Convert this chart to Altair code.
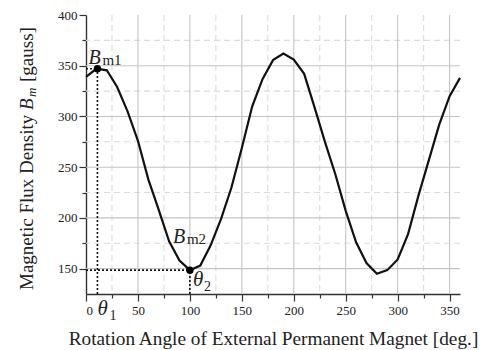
import altair as alt
import pandas as pd

# ---- data ----
angles = [0, 10, 20, 30, 40, 50, 60, 70, 80, 90, 100, 110, 120, 130, 140, 150,
          160, 170, 180, 190, 200, 210, 220, 230, 240, 250, 260, 270, 280, 290,
          300, 310, 320, 330, 340, 350, 360]
flux = [339, 347, 345.5, 329, 305, 276, 238, 208, 177, 158, 148.5, 153, 173,
        199, 230, 269, 310, 337, 355.5, 362, 356, 342, 309, 275, 243, 207, 176,
        155.5, 145, 148.5, 159, 184, 222, 257, 292, 320, 338]

theta1, bm1 = 11, 347
theta2, bm2 = 100, 148.5

x_major = [0, 50, 100, 150, 200, 250, 300, 350]
x_minor = [25, 75, 125, 175, 225, 275, 325]
y_major = [150, 200, 250, 300, 350, 400]
y_minor = [175, 225, 275, 325, 375]
x_min, x_max = 0, 360
y_min, y_max = 125, 400

x_title = "Rotation Angle of External Permanent Magnet [deg.]"
y_title_parts = ["Magnetic Flux Density", "B", "m", "[gauss]"]

FONT = "Liberation Serif"
W, H = 374, 279
TXT = "#222222"

df = pd.DataFrame({"angle": angles, "flux": flux})
pts = pd.DataFrame({"angle": [theta1, theta2], "flux": [bm1, bm2]})
guides = pd.DataFrame({
    "x":  [theta1, x_min, theta2, x_min],
    "y":  [y_min, bm1, y_min, bm2],
    "x2": [theta1, theta1, theta2, theta2],
    "y2": [bm1, bm1, bm2, bm2],
})
vgrid_major = pd.DataFrame({"v": [v for v in x_major if v > x_min]})
vgrid_minor = pd.DataFrame({"v": x_minor})
hgrid_major = pd.DataFrame({"v": [v for v in y_major if v < y_max]})
hgrid_minor = pd.DataFrame({"v": y_minor})

xscale = alt.Scale(domain=[x_min, x_max], nice=False, zero=False)
yscale = alt.Scale(domain=[y_min, y_max], nice=False, zero=False)

tick_size = {"condition": {"test": "datum.value % 50 === 0", "value": 7}, "value": 4}

x_axis = alt.Axis(
    values=sorted(x_major + x_minor),
    labelExpr="datum.value % 50 === 0 ? datum.label : ''",
    title=x_title, titlePadding=12, labelPadding=3, grid=False, tickSize=tick_size,
    labelFont=FONT, titleFont=FONT,
)
y_axis = alt.Axis(
    values=sorted(y_major + y_minor),
    labelExpr="datum.value % 50 === 0 ? datum.label : ''",
    title=None, labelPadding=2, grid=False, tickSize=tick_size,
    labelFont=FONT,
)

X = alt.X("angle:Q", scale=xscale, axis=x_axis)
Y = alt.Y("flux:Q", scale=yscale, axis=y_axis)

# grid lines
vmaj = alt.Chart(vgrid_major).mark_rule(color="#c4c4c4", strokeWidth=1.1).encode(
    x=alt.X("v:Q", scale=xscale, axis=x_axis))
vmin = alt.Chart(vgrid_minor).mark_rule(color="#dcdcdc", strokeWidth=1.1, strokeDash=[6, 4]).encode(
    x=alt.X("v:Q", scale=xscale, axis=x_axis))
hmaj = alt.Chart(hgrid_major).mark_rule(color="#c4c4c4", strokeWidth=1.1).encode(
    y=alt.Y("v:Q", scale=yscale, axis=y_axis))
hmin = alt.Chart(hgrid_minor).mark_rule(color="#dcdcdc", strokeWidth=1.1, strokeDash=[6, 4]).encode(
    y=alt.Y("v:Q", scale=yscale, axis=y_axis))

curve = alt.Chart(df).mark_line(color="#111111", strokeWidth=2.2).encode(x=X, y=Y)

dots = alt.Chart(pts).mark_circle(color="#000000", opacity=1, size=55).encode(x=X, y=Y)

dotted = alt.Chart(guides).mark_rule(
    color="#111111", strokeWidth=1.6, strokeDash=[2, 2]
).encode(
    x=alt.X("x:Q", scale=xscale, axis=x_axis),
    y=alt.Y("y:Q", scale=yscale, axis=y_axis),
    x2="x2:Q", y2="y2:Q",
)

one = pd.DataFrame({"k": [0]})


def txt(text, x, y, size, style="normal", angle=0, align="left", baseline="alphabetic"):
    return alt.Chart(one).mark_text(
        text=text, font=FONT, fontSize=size, fontStyle=style, color=TXT,
        angle=angle, align=align, baseline=baseline,
    ).encode(x=alt.value(x), y=alt.value(y))


def ann(text, ax, ay, size, dx, dy, style="normal"):
    return alt.Chart(pd.DataFrame({"angle": [ax], "flux": [ay]})).mark_text(
        text=text, font=FONT, fontSize=size, fontStyle=style, color=TXT,
        align="left", baseline="alphabetic", dx=dx, dy=dy).encode(x=X, y=Y)


lab_bm1 = ann("B", theta1, bm1, 20, -9, -5, "italic")
lab_bm1s = ann("m1", theta1, bm1, 15, 5, -4)
lab_bm2 = ann("B", theta2, bm2, 20, -17, -27, "italic")
lab_bm2s = ann("m2", theta2, bm2, 15, -3, -26)
lab_t2 = ann("θ", theta2, bm2, 21, 3, 16, "italic")
lab_t2s = ann("2", theta2, bm2, 14, 14, 21)
lab_t1 = ann("θ", theta1, y_min, 21, 0, 21, "italic")
lab_t1s = ann("1", theta1, y_min, 14, 12, 26)

# y axis title composed of pieces (rotated)
yt1 = txt(y_title_parts[0], -53, 290 - 15, 19, angle=270, align="left")
yt2 = txt(y_title_parts[1], -53, 110 - 15, 19, style="italic", angle=270, align="left")
yt3 = txt(y_title_parts[2], -50, 97 - 15, 13, style="italic", angle=270, align="left")
yt4 = txt(y_title_parts[3], -53, 82 - 15, 19, angle=270, align="left")

chart = alt.layer(
    vmin, hmin, vmaj, hmaj, curve, dotted, dots,
    lab_bm1, lab_bm1s, lab_bm2, lab_bm2s, lab_t2, lab_t2s, lab_t1, lab_t1s,
    yt1, yt2, yt3, yt4,
).properties(
    width=W, height=H,
    autosize=alt.AutoSizeParams(type="none"),
    padding={"left": 86, "top": 15, "right": 28, "bottom": 56},
    background="white",
).configure(font=FONT).configure_view(stroke=None).configure_axis(
    labelFont=FONT, labelFontSize=13, labelColor=TXT,
    titleFont=FONT, titleFontSize=19.3, titleFontWeight="normal", titleColor=TXT,
    domainColor="#333333", domainWidth=1.4,
    tickColor="#333333", tickWidth=1.2,
)

chart.save("out.html", embed_options={"renderer": "svg", "actions": False})
